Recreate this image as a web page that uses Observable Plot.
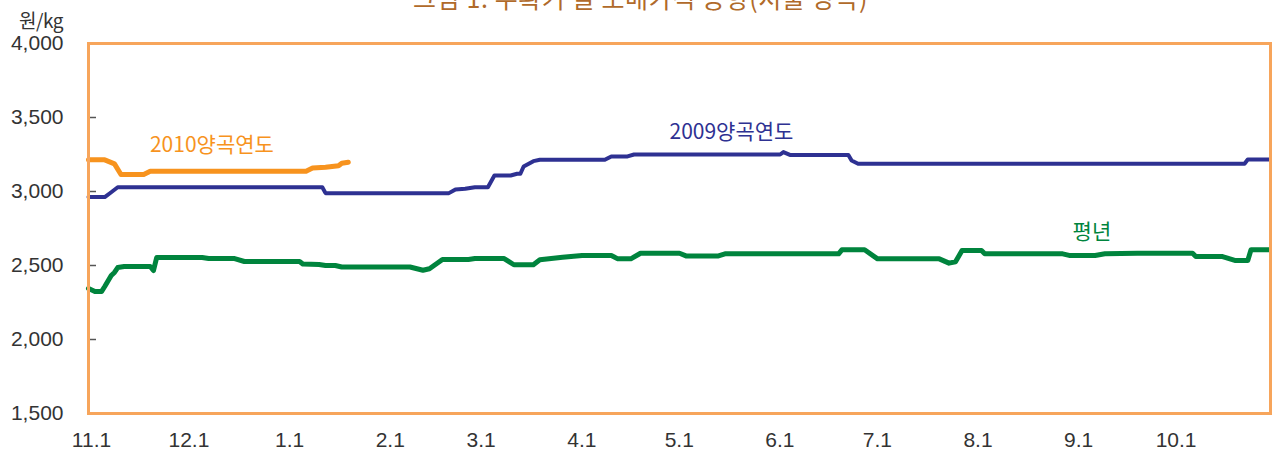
<!DOCTYPE html>
<html>
<head>
<meta charset="utf-8">
<script src="https://cdn.jsdelivr.net/npm/d3@7"></script>
<script src="https://cdn.jsdelivr.net/npm/@observablehq/plot@0.6"></script>
<style>
  html, body { margin: 0; padding: 0; background: #fff; overflow: hidden; }
  #wrap { position: relative; width: 1272px; height: 451px; }
  #title { position: absolute; left: 413px; top: -15px; font-family: "Noto Sans CJK KR", sans-serif; font-size: 25px; line-height: 1; color: #b06a2a; white-space: nowrap; letter-spacing: 0.6px; }
  #unit { position: absolute; left: 0; width: 63px; top: 6px; text-align: right; font-family: "Noto Sans CJK KR", "Liberation Sans", sans-serif; font-size: 19px; color: #333; letter-spacing: -0.5px; }
  #chart { position: absolute; left: 0; top: 0; }
</style>
</head>
<body>
<div id="wrap">
  <div id="chart"></div>
  <div id="title">그림 1. 수확기 쌀 도매가격 동향(서울 양곡)</div>
  <div id="unit">원/kg</div>
</div>
<script>
// ---- data (month-day; Nov/Dec belong to the first year of the grain year) ----
const avgDates = ["11-01","11-03","11-05","11-06","11-08","11-09","11-10","11-12","11-20","11-21","11-22","12-06","12-08","12-16","12-19","01-05","01-06","01-11","01-13","01-16","01-18","02-08","02-12","02-14","02-18","02-26","02-28","03-09","03-12","03-18","03-20","03-27","04-02","04-11","04-13","04-17","04-20","05-02","05-04","05-14","05-16","06-20","06-21","06-28","07-02","07-21","07-24","07-26","07-28","08-03","08-04","08-28","08-30","09-07","09-10","09-20","10-07","10-08","10-16","10-20","10-24","10-25","10-31"];
const avgValues = [2345,2324,2324,2358,2432,2453,2486,2493,2493,2466,2554,2554,2547,2547,2527,2527,2510,2507,2500,2500,2490,2490,2468,2478,2541,2541,2547,2547,2505,2505,2539,2556,2568,2568,2545,2545,2583,2583,2565,2565,2579,2579,2606,2606,2545,2545,2516,2525,2601,2601,2579,2579,2568,2568,2579,2583,2583,2561,2561,2534,2534,2606,2606];

const y2009Dates = ["11-01","11-06","11-08","11-10","01-12","01-13","02-20","02-22","02-25","02-28","03-04","03-06","03-11","03-13","03-14","03-15","03-18","03-20","04-09","04-11","04-16","04-18","06-02","06-03","06-05","06-23","06-24","06-26","10-23","10-24","10-31"];
const y2009Values = [2962,2962,2995,3029,3029,2989,2989,3014,3018,3029,3029,3108,3108,3120,3120,3169,3205,3214,3214,3237,3237,3250,3250,3266,3247,3247,3209,3187,3187,3216,3216];

const y2010Dates = ["11-01","11-06","11-09","11-11","11-18","11-20","01-07","01-09","01-13","01-17","01-18","01-20"];
const y2010Values = [3214,3214,3187,3115,3115,3137,3137,3158,3164,3174,3191,3198];

const yTicks = [1500, 2000, 2500, 3000, 3500, 4000];
const innerTicks = [2000, 2500, 3000, 3500];
const monthStarts = ["11-01","12-01","01-01","02-01","03-01","04-01","05-01","06-01","07-01","08-01","09-01","10-01"];
const monthLabels = ["11.1","12.1","1.1","2.1","3.1","4.1","5.1","6.1","7.1","8.1","9.1","10.1"];

const seriesLabels = ["2010양곡연도", "2009양곡연도", "평년"];
const labelDates = ["12-09", "05-18", "09-06"];
const labelValues = [3311, 3399, 2723];
const seriesColors = ["#f7931e", "#2e3192", "#00843d"];

// ---- helpers ----
function toDate(md) {
  const [m, d] = md.split("-").map(Number);
  const year = m >= 11 ? 2009 : 2010;
  return new Date(Date.UTC(year, m - 1, d));
}
function series(dates, values) {
  return dates.map((d, i) => ({date: toDate(d), value: values[i]}));
}

const W = 1272, H = 451, ML = 88, MR = 2, MT = 43, MB = 38;
const plotW = W - ML - MR;
const tickFont = "Liberation Sans, Arial, sans-serif";

const labelMarks = seriesLabels.map((t, i) =>
  Plot.text([{date: toDate(labelDates[i]), value: labelValues[i], t}], {
    x: "date", y: "value", text: "t", fill: seriesColors[i],
    fontSize: 21, fontFamily: "Noto Sans CJK KR, sans-serif", textAnchor: "middle"
  })
);

const chart = Plot.plot({
  width: W, height: H,
  marginLeft: ML, marginRight: MR, marginTop: MT, marginBottom: MB,
  style: {background: "transparent", color: "#333"},
  x: {type: "utc", domain: [toDate("11-01"), toDate("10-31")]},
  y: {domain: [1500, 4000]},
  marks: [
    Plot.axisY(yTicks, {
      tickSize: 0, tickPadding: 25, tickFormat: d3.format(","), label: null,
      fontSize: 21, fontFamily: tickFont, fill: "#333", letterSpacing: -1.5
    }),
    Plot.axisX(monthStarts.map(toDate), {
      tickSize: 0, tickPadding: 19, label: null, dx: 3,
      tickFormat: (d, i) => monthLabels[i],
      fontSize: 21, fontFamily: tickFont, fill: "#333", letterSpacing: -1.5
    }),
    Plot.tickY(innerTicks, {y: d => d, stroke: "#555", strokeWidth: 1.5, insetRight: plotW - 8}),
    Plot.line(series(avgDates, avgValues), {x: "date", y: "value", stroke: seriesColors[2], strokeWidth: 5, strokeLinejoin: "round", strokeLinecap: "round"}),
    Plot.line(series(y2009Dates, y2009Values), {x: "date", y: "value", stroke: seriesColors[1], strokeWidth: 4, strokeLinejoin: "round", strokeLinecap: "round"}),
    Plot.line(series(y2010Dates, y2010Values), {x: "date", y: "value", stroke: seriesColors[0], strokeWidth: 5, strokeLinejoin: "round", strokeLinecap: "round"}),
    ...labelMarks,
    Plot.frame({stroke: "#f7a55b", strokeWidth: 3})
  ]
});
document.getElementById("chart").appendChild(chart);
</script>
</body>
</html>
